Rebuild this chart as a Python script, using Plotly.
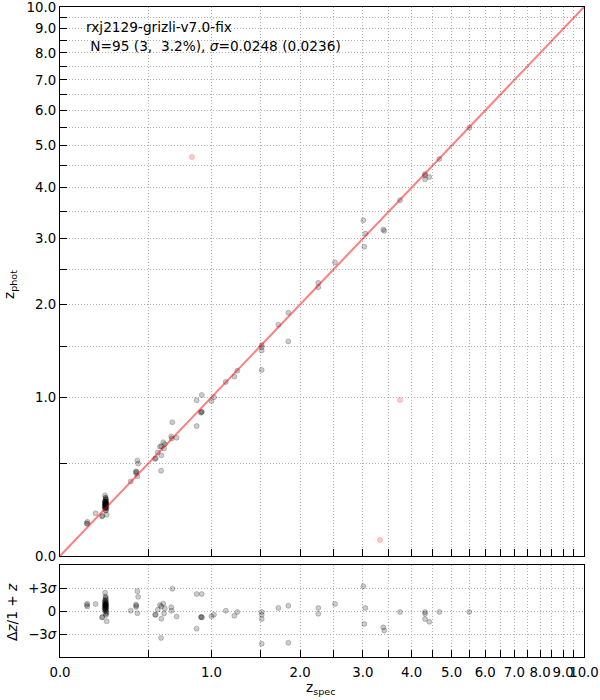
import plotly.graph_objects as go

# --- data (spectroscopic vs photometric redshift) ---
zspec = [0.133, 0.133, 0.130, 0.177, 0.382, 0.416, 0.416, 0.418, 0.425, 0.430,
         0.425, 0.545, 0.550, 0.564, 0.580, 0.590, 0.604, 0.590, 0.588, 0.610,
         0.615, 0.664, 0.667, 0.672, 0.705, 0.869, 0.913, 0.869, 0.910, 0.915,
         0.905, 1.000, 1.023, 1.135, 1.221, 1.251, 1.517, 1.517, 1.517, 1.517,
         1.716, 1.843, 1.843, 2.261, 2.261, 2.520, 3.007, 3.044, 3.026, 3.390,
         3.410, 3.740, 4.314, 4.314, 4.314, 4.419, 4.673, 5.508]
zphot = [0.161, 0.151, 0.153, 0.205, 0.385, 0.447, 0.436, 0.444, 0.518, 0.497,
         0.416, 0.528, 0.533, 0.572, 0.612, 0.615, 0.644, 0.552, 0.451, 0.599,
         0.630, 0.686, 0.670, 0.794, 0.676, 0.974, 1.020, 0.764, 0.876, 0.877,
         0.869, 0.968, 1.001, 1.139, 1.190, 1.246, 1.512, 1.489, 1.454, 1.253,
         1.746, 1.894, 1.553, 2.297, 2.235, 2.604, 3.332, 3.088, 2.861, 3.162,
         3.137, 3.731, 4.303, 4.271, 4.181, 4.235, 4.662, 5.495]
# cluster members at z~0.234
cluster_zspec = [0.229, 0.231, 0.233, 0.235, 0.228, 0.232, 0.230, 0.236, 0.234, 0.227,
                 0.231, 0.233, 0.229, 0.232, 0.235, 0.230, 0.228, 0.234, 0.237, 0.226,
                 0.231, 0.233, 0.230, 0.232, 0.229, 0.236, 0.238, 0.212, 0.214, 0.238,
                 0.235, 0.231, 0.228, 0.233]
cluster_zphot = [0.303, 0.290, 0.282, 0.278, 0.267, 0.269, 0.264, 0.268, 0.265, 0.256,
                 0.258, 0.259, 0.254, 0.255, 0.257, 0.250, 0.246, 0.251, 0.252, 0.238,
                 0.242, 0.243, 0.237, 0.237, 0.231, 0.236, 0.232, 0.188, 0.192, 0.198,
                 0.220, 0.221, 0.272, 0.288]
# catastrophic outliers
out_zspec = [0.829, 3.740, 3.325]
out_zphot = [4.710, 0.977, 0.072]

sigma = 0.0248
title_line1 = "rxj2129-grizli-v7.0-fix"
title_line2 = "\u00a0N=95 (3,\u00a0\u00a03.2%), <i>σ</i>=0.0248 (0.0236)"
tick_z = [i * 0.5 for i in range(21)]

# ---------------------------------------------------------------------------
zs_all = zspec + cluster_zspec
zp_all = zphot + cluster_zphot
dz = [(p - s) / (1 + s) for s, p in zip(zs_all, zp_all)]

FONT = "DejaVu Sans"
BLACK_FILL = "rgba(0,0,0,0.2)"
BLACK_EDGE = "rgba(0,0,0,0.2)"
RED_FILL = "rgba(255,0,0,0.2)"
GRID = "#b0b0b0"
DASH = "1px,2px"
MS = 5

fig = go.Figure()

fig.add_trace(go.Scatter(
    x=[1 + z for z in zs_all], y=[1 + z for z in zp_all], mode="markers",
    marker=dict(size=MS, color=BLACK_FILL, line=dict(color=BLACK_EDGE, width=1)),
    xaxis="x", yaxis="y", showlegend=False, hoverinfo="skip"))
fig.add_trace(go.Scatter(
    x=[1 + z for z in out_zspec], y=[1 + z for z in out_zphot], mode="markers",
    marker=dict(size=MS, color=RED_FILL, line=dict(color=RED_FILL, width=1)),
    xaxis="x", yaxis="y", showlegend=False, hoverinfo="skip"))
fig.add_trace(go.Scatter(
    x=[1 + tick_z[0], 1 + tick_z[-1]], y=[1 + tick_z[0], 1 + tick_z[-1]], mode="lines",
    line=dict(color="rgba(255,0,0,0.5)", width=2),
    xaxis="x", yaxis="y", showlegend=False, hoverinfo="skip"))

fig.add_trace(go.Scatter(
    x=[1 + z for z in zs_all], y=dz, mode="markers",
    marker=dict(size=MS, color=BLACK_FILL, line=dict(color=BLACK_EDGE, width=1)),
    xaxis="x2", yaxis="y2", showlegend=False, hoverinfo="skip"))

tickvals = [1 + t for t in tick_z]
ticktext = [f"{t:.1f}" if abs(t - round(t)) < 1e-9 else "" for t in tick_z]
lrange = [0, 1.0413926851582251]
TF = dict(family=FONT, size=13.3, color="black")

common = dict(
    type="log", range=lrange, tickmode="array", tickvals=tickvals,
    showgrid=True, gridcolor=GRID, griddash=DASH, gridwidth=1,
    showline=True, linecolor="black", linewidth=1.3, mirror=True,
    ticks="inside", ticklen=7, tickwidth=1.3, tickcolor="black",
    zeroline=False, tickangle=0, automargin=False, tickfont=TF)

fig.update_layout(
    width=600, height=700,
    margin=dict(l=60, r=16, t=7, b=43),
    paper_bgcolor="white", plot_bgcolor="white",
    font=dict(family=FONT, size=13, color="black"),
    xaxis=dict(common, domain=[0, 1], anchor="y", ticktext=[""] * len(tickvals),
               showticklabels=False, matches="x2"),
    yaxis=dict(common, domain=[0.1554, 1.0], anchor="x", ticktext=ticktext),
    xaxis2=dict(common, domain=[0, 1], anchor="y2", ticktext=ticktext,
                ticklabelstandoff=3),
    yaxis2=dict(
        domain=[0, 0.1415], anchor="x2", range=[-0.148, 0.150],
        tickmode="array", tickvals=[-3 * sigma, 0, 3 * sigma],
        ticktext=["−3<i>σ</i>", "0", "+3<i>σ</i>"],
        showgrid=True, gridcolor=GRID, griddash=DASH, gridwidth=1,
        showline=True, linecolor="black", linewidth=1.3, mirror=True,
        ticks="inside", ticklen=7, tickwidth=1.3, tickcolor="black",
        zeroline=False, automargin=False, tickfont=TF),
)

AF = dict(family=FONT, size=13.7, color="black")
ann = [
    dict(text=title_line1, x=24 / 524, y=(657 - 27) / 650, xanchor="left", yanchor="middle"),
    dict(text=title_line2, x=24 / 524, y=(657 - 46) / 650, xanchor="left", yanchor="middle"),
    dict(text="z<sub>phot</sub>", x=-50 / 524, y=(657 - 285) / 650, xanchor="center",
         yanchor="middle", textangle=-90),
    dict(text="Δ<i>z</i>/1 + <i>z</i>", x=-48 / 524, y=(657 - 612) / 650, xanchor="center",
         yanchor="middle", textangle=-90),
    dict(text="z<sub>spec</sub>", x=(320 - 60) / 524, y=(657 - 688) / 650, xanchor="center",
         yanchor="middle"),
]
for a in ann:
    a.update(xref="paper", yref="paper", showarrow=False, font=AF)
fig.update_layout(annotations=ann)

fig.write_html("out.html", config={"displayModeBar": False},
               post_script="document.body.style.margin='0';")
